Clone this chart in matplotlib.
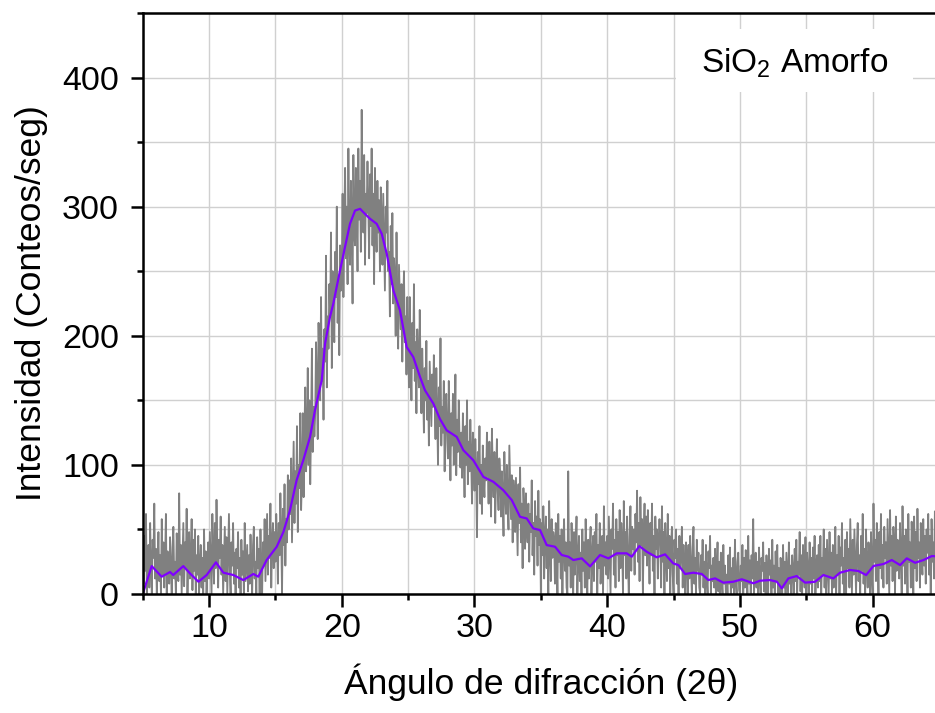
import numpy as np
import matplotlib
matplotlib.use("Agg")
import matplotlib.pyplot as plt
from matplotlib.ticker import MultipleLocator
from matplotlib.patches import Rectangle

plt.rcParams["font.family"] = ["Liberation Sans", "DejaVu Sans"]
plt.rcParams["mathtext.fontset"] = "custom"
plt.rcParams["mathtext.rm"] = "Liberation Sans"
plt.rcParams["mathtext.it"] = "Liberation Sans"

# Raw XRD scan: uniform 2-theta step, one row per degree
scan_start = 5.0
scan_step = 0.0625
raw_counts = [
    30, 8, 45, 18, 62, 0, 25, 38, 5, 55, 20, 0, 42, 28, 70, 12,
    35, 0, 22, 48, 10, 30, 0, 58, 15, 40, 5, 27, 62, 0, 33, 18,
    8, 44, 20, 0, 36, 52, 12, 25, 0, 47, 30, 10, 78, 15, 38, 0,
    28, 55, 6, 40, 20, 66, 0, 34, 48, 12, 25, 58, 3, 42, 18, 50,
    0, 30, 15, 45, 0, 22, 38, 5, 28, 0, 50, 10, 33, 0, 18, 40,
    12, 48, 25, 0, 62, 30, 8, 55, 20, 73, 35, 5, 42, 28, 60, 15,
    38, 0, 26, 52, 10, 44, 0, 30, 62, 18, 0, 40, 22, 55, 8, 32,
    0, 35, 20, 48, 5, 28, 0, 42, 15, 33, 0, 55, 10, 25, 38, 2,
    30, 8, 46, 18, 0, 38, 52, 12, 25, 0, 44, 20, 35, 0, 50, 15,
    0, 40, 22, 58, 10, 35, 62, 15, 45, 28, 70, 5, 38, 55, 20, 48,
    25, 62, 40, 8, 55, 30, 78, 45, 0, 66, 38, 85, 22, 58, 40, 92,
    50, 88, 62, 105, 40, 80, 118, 55, 95, 70, 130, 48, 100, 82, 140, 65,
    90, 140, 75, 128, 160, 95, 118, 175, 100, 150, 85, 130, 190, 110, 145, 122,
    140, 195, 160, 120, 210, 175, 150, 230, 165, 190, 135, 205, 180, 262, 160, 215,
    190, 240, 215, 280, 175, 250, 225, 195, 265, 230, 300, 210, 245, 185, 270, 235,
    250, 310, 230, 285, 330, 260, 300, 240, 345, 275, 255, 320, 290, 225, 340, 280,
    270, 330, 300, 250, 345, 290, 320, 265, 375, 300, 280, 340, 255, 310, 295, 335,
    300, 260, 325, 285, 345, 270, 310, 240, 330, 295, 265, 320, 280, 305, 250, 315,
    290, 255, 310, 270, 235, 300, 280, 320, 250, 265, 215, 285, 240, 295, 225, 260,
    245, 200, 280, 220, 190, 255, 230, 205, 240, 180, 225, 250, 195, 215, 170, 230,
    200, 160, 230, 185, 150, 210, 175, 240, 165, 195, 140, 205, 180, 160, 220, 175,
    140, 190, 160, 125, 175, 150, 196, 135, 165, 115, 180, 155, 130, 170, 145, 185,
    150, 120, 175, 140, 100, 160, 130, 198, 115, 145, 125, 165, 95, 140, 155, 120,
    105, 165, 130, 88, 140, 115, 155, 100, 125, 170, 92, 135, 110, 150, 120, 98,
    125, 90, 140, 110, 75, 130, 100, 150, 85, 118, 95, 135, 105, 70, 125, 115,
    80, 120, 95, 44, 110, 85, 130, 70, 100, 62, 115, 90, 75, 105, 88, 125,
    100, 70, 118, 85, 60, 128, 95, 75, 110, 55, 90, 120, 80, 65, 105, 92,
    60, 95, 75, 45, 110, 80, 62, 100, 70, 50, 115, 85, 58, 92, 40, 88,
    75, 48, 90, 60, 30, 85, 55, 98, 40, 70, 20, 82, 62, 35, 78, 50,
    40, 70, 25, 62, 48, 88, 30, 55, 15, 72, 45, 60, 22, 80, 38, 58,
    0, 55, 30, 68, 12, 45, 60, 20, 50, 0, 72, 35, 10, 58, 28, 48,
    42, 8, 55, 30, 0, 62, 25, 45, 12, 50, 0, 38, 58, 18, 40, 5,
    0, 95, 22, 40, 5, 55, 30, 0, 48, 15, 35, 60, 0, 28, 45, 10,
    32, 0, 50, 18, 40, 5, 58, 25, 0, 42, 12, 35, 52, 0, 30, 45,
    10, 48, 25, 62, 0, 38, 20, 55, 8, 30, 45, 0, 68, 22, 40, 15,
    45, 12, 60, 28, 0, 50, 35, 70, 15, 42, 5, 58, 30, 48, 10, 65,
    20, 55, 38, 0, 72, 30, 48, 12, 60, 25, 0, 45, 68, 18, 52, 35,
    50, 15, 62, 40, 80, 25, 55, 10, 75, 38, 58, 0, 48, 70, 30, 60,
    22, 65, 40, 8, 55, 30, 70, 18, 45, 0, 60, 35, 50, 12, 42, 58,
    40, 5, 68, 25, 48, 0, 55, 30, 10, 62, 20, 45, 0, 38, 52, 15,
    0, 42, 28, 50, 8, 35, 0, 45, 20, 30, 52, 5, 38, 15, 0, 40,
    25, 0, 38, 12, 45, 20, 0, 35, 52, 8, 28, 0, 42, 18, 32, 5,
    0, 30, 15, 42, 5, 25, 0, 38, 12, 0, 33, 20, 45, 0, 22, 10,
    28, 5, 35, 0, 18, 40, 2, 25, 0, 32, 12, 0, 38, 8, 22, 0,
    15, 0, 30, 8, 36, 0, 20, 5, 28, 0, 42, 10, 0, 25, 32, 3,
    0, 22, 10, 38, 0, 28, 5, 34, 15, 0, 45, 8, 26, 0, 30, 12,
    58, 0, 20, 32, 5, 25, 0, 36, 12, 0, 28, 18, 40, 2, 24, 0,
    30, 8, 0, 35, 15, 26, 0, 42, 5, 22, 0, 33, 10, 38, 0, 20,
    0, 28, 12, 0, 38, 5, 25, 0, 32, 15, 0, 40, 8, 22, 0, 30,
    18, 0, 35, 10, 42, 0, 25, 15, 48, 2, 30, 0, 38, 20, 5, 44,
    0, 32, 18, 0, 40, 8, 28, 0, 36, 12, 45, 0, 22, 30, 5, 38,
    10, 45, 0, 28, 15, 50, 5, 35, 0, 42, 20, 0, 48, 12, 32, 0,
    38, 5, 25, 52, 0, 30, 15, 45, 0, 36, 22, 55, 8, 28, 0, 42,
    0, 48, 20, 35, 5, 58, 28, 0, 42, 15, 50, 25, 0, 38, 55, 10,
    30, 0, 45, 18, 62, 8, 35, 0, 50, 22, 5, 40, 28, 0, 48, 15,
    0, 70, 25, 42, 10, 55, 30, 0, 48, 20, 62, 12, 38, 5, 52, 28,
    40, 8, 58, 30, 0, 65, 22, 45, 10, 52, 35, 0, 60, 18, 42, 28,
    12, 55, 30, 0, 68, 22, 45, 8, 50, 35, 0, 62, 25, 40, 5, 56,
    35, 0, 60, 20, 48, 10, 66, 28, 40, 5, 55, 30, 15, 58, 22, 45,
    8, 50, 32, 62, 15, 45, 0, 58, 25, 40, 12, 64, 30, 48, 18, 55,
    30,
]

# Smoothed pattern
smooth_angle = [
    5.0, 5.68, 6.43, 7.06, 7.3, 8.06, 8.56, 9.2, 9.82, 10.52, 11.08, 11.83,
    12.58, 13.34, 13.71, 14.34, 15.1, 15.6, 16.1, 16.6, 17.1, 17.61, 17.98,
    18.49, 18.74, 19.11, 19.36, 19.87, 20.24, 20.62, 21.0, 21.38, 21.75,
    22.13, 22.63, 23.01, 23.39, 23.89, 24.39, 24.89, 25.39, 25.9, 26.27,
    26.9, 27.4, 27.9, 28.66, 29.16, 29.91, 30.67, 31.42, 32.17, 32.81,
    33.43, 33.94, 34.43, 34.94, 35.44, 36.07, 36.57, 37.07, 37.45, 38.08,
    38.71, 39.46, 40.09, 40.72, 41.47, 41.85, 42.42, 42.98, 43.73, 44.36,
    44.98, 45.36, 45.87, 46.49, 47.13, 47.62, 48.13, 48.75, 49.5, 50.14,
    51.01, 51.52, 52.27, 52.78, 53.15, 53.65, 54.28, 54.91, 55.66, 56.29,
    57.04, 57.54, 58.3, 58.93, 59.51, 60.06, 60.81, 61.44, 62.07, 62.57,
    63.2, 63.83, 64.46, 65.0,
]
smooth_counts = [
    0, 21.6, 13.4, 17.0, 14.7, 21.6, 16.0, 9.5, 14.7, 24.5, 16.5, 14.7,
    10.8, 15.5, 13.4, 26.3, 36.6, 48.0, 65.0, 88.2, 103.6, 121.7, 142.3,
    165.5, 193.9, 214.5, 224.8, 250.6, 268.6, 286.7, 297.0, 298.3, 294.4,
    290.6, 286.7, 279.0, 263.5, 235.1, 219.6, 191.3, 183.5, 168.0, 157.8,
    147.5, 135.5, 126.8, 121.7, 111.4, 103.6, 90.7, 86.9, 80.4, 72.7,
    59.8, 58.5, 50.8, 49.5, 37.9, 36.6, 30.2, 28.9, 26.3, 27.6,
    21.4, 30.2, 27.6, 31.5, 31.5, 28.9, 37.1, 32.7, 28.4, 30.7,
    23.7, 22.4, 15.5, 16.5, 15.5, 10.8, 12.1, 8.8, 9.5, 11.4,
    8.3, 10.3, 10.8, 9.5, 4.4, 12.1, 13.9, 8.8, 9.5, 14.7,
    12.1, 16.5, 18.6, 17.8, 14.7, 21.7, 23.2, 26.3, 22.4, 27.6,
    24.2, 26.3, 29.4, 29.0,
]

x_ticks = [10, 20, 30, 40, 50, 60]
y_ticks = [0, 100, 200, 300, 400]

angle = scan_start + scan_step * np.arange(len(raw_counts))

fig = plt.figure(figsize=(9.35, 7.13), dpi=100)
ax = fig.add_axes([0.1526, 0.1669, 0.8517, 0.8149])

ax.plot(angle, raw_counts, color="#808080", lw=1.3, zorder=3)
ax.plot(smooth_angle, smooth_counts, color="#7F00FF", lw=1.6, zorder=4)

ax.set_xlim(5, 65)
ax.set_ylim(0, 450)
ax.set_xticks(x_ticks)
ax.set_yticks(y_ticks)
ax.xaxis.set_minor_locator(MultipleLocator(5))
ax.yaxis.set_minor_locator(MultipleLocator(50))

ax.grid(True, which="both", color="#d0d0d0", lw=1.0, zorder=0)
ax.set_axisbelow(True)

for side in ("left", "bottom", "top", "right"):
    ax.spines[side].set_linewidth(1.8)
    ax.spines[side].set_zorder(5)

ax.tick_params(which="major", direction="out", length=9, width=1.8,
               labelsize=24.5)
ax.tick_params(which="minor", direction="out", length=4.5, width=1.8)
ax.tick_params(axis="y", which="major", pad=8)
ax.tick_params(axis="x", which="major", pad=5)
ax.tick_params(top=False, right=False, which="both")

ax.set_xlabel("Ángulo de difracción (2θ)", fontsize=25.5, labelpad=14)
ax.set_ylabel("Intensidad (Conteos/seg)", fontsize=25.5, labelpad=10)

# Sample label on a white panel
ax.add_patch(Rectangle((0.670, 0.864), 0.297, 0.108, transform=ax.transAxes,
                       facecolor="white", edgecolor="none", zorder=2))
ax.text(0.819, 0.898, "SiO$_2$ Amorfo", transform=ax.transAxes,
        ha="center", va="baseline", fontsize=24, zorder=6)

fig.savefig("out.png", dpi=100)
